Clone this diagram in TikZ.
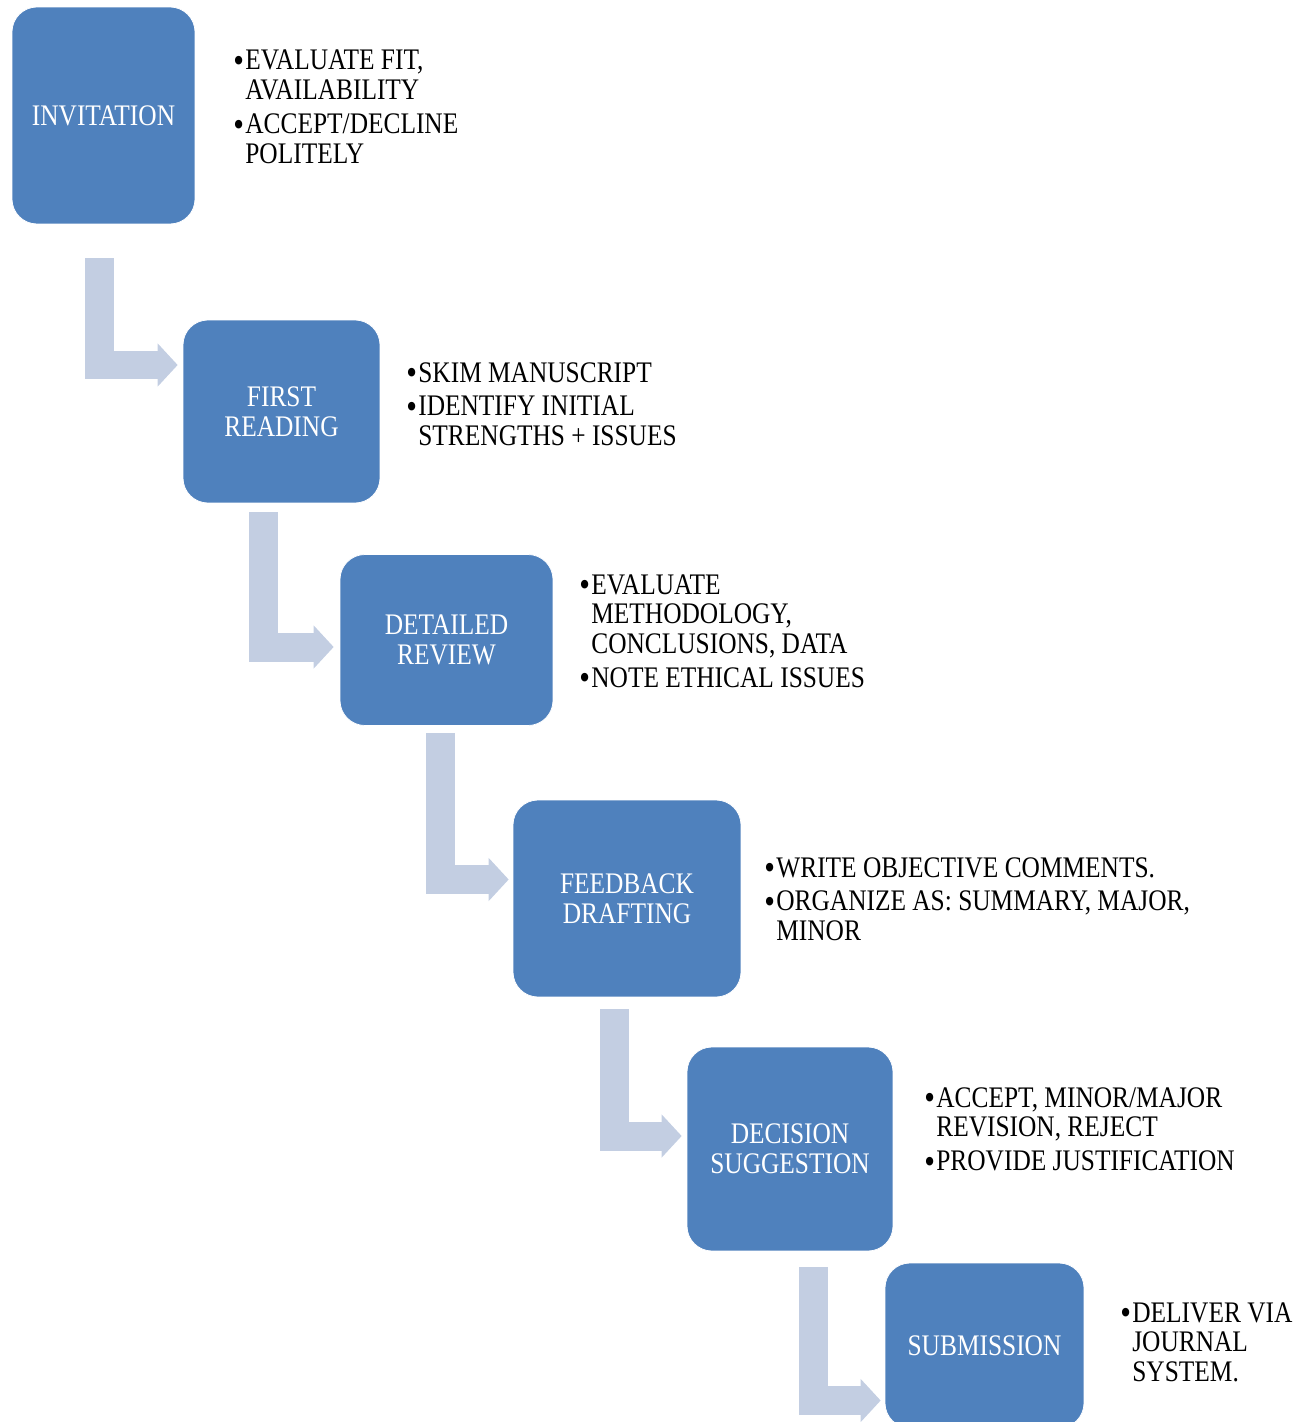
\documentclass[tikz,border=0pt]{standalone}
\usepackage{fontspec}
\setmainfont{Liberation Serif}[FakeStretch=0.85]
\usetikzlibrary{arrows.meta,calc}
\definecolor{boxblue}{HTML}{4F81BD}
\definecolor{flowgray}{HTML}{C3CEE2}
\newcommand{\bl}{\raisebox{-1.3pt}{\scalebox{1.2}{\textbullet}}}
\begin{document}
\begin{tikzpicture}[x=0.02cm,y=-0.02cm,
    font=\fontsize{17}{17}\selectfont,
    phase/.style={fill=boxblue,draw=white,line width=0.4pt,rounded corners=0.5cm,
      text=white,align=center,inner sep=0pt},
    notes/.style={anchor=base west,inner sep=0pt},
    flow/.style={draw=flowgray,line width=0.58cm,line join=miter,
      -{Triangle[width=0.84cm,length=0.4cm]}}]
        % 画像の大きさ
        \useasboundingbox (0,0) rectangle (1310,1422);
        % 各段階のボックス
        \node[phase,minimum width=3.66cm,minimum height=4.34cm] (invitation) at (103.5,115.5) {INVITATION};
        \node[phase,minimum width=3.94cm,minimum height=3.66cm] (reading) at (281.5,411.5) {FIRST\\READING};
        \node[phase,minimum width=4.26cm,minimum height=3.42cm] (review) at (446.5,640) {DETAILED\\REVIEW};
        \node[phase,minimum width=4.56cm,minimum height=3.94cm] (drafting) at (627,898.5) {FEEDBACK\\DRAFTING};
        \node[phase,minimum width=4.12cm,minimum height=4.08cm] (decision) at (790,1149) {DECISION\\SUGGESTION};
        \node[phase,minimum width=3.98cm,minimum height=3.30cm] (submission) at (984.5,1345.5) {SUBMISSION};
        % 段階の間の矢印
        \draw[flow] ($(invitation.south west)+(87.5,34)$) |- ($(reading.west)+(-5,-46.5)$);
        \draw[flow] ($(reading.south west)+(81,9)$) |- ($(review.west)+(-6,7)$);
        \draw[flow] ($(review.south west)+(100.5,7)$) |- ($(drafting.west)+(-4,-19)$);
        \draw[flow] ($(drafting.south west)+(101.5,12)$) |- ($(decision.west)+(-5,-13)$);
        \draw[flow] ($(decision.south west)+(127,16)$) |- ($(submission.west)+(-4,55)$);
        % 箇条書き
        \node[notes] (invitationnotes) at (233,70) {\begin{tabular}[t]{@{}p{0.24cm}@{}l@{}}
          \bl & EVALUATE FIT,\\ & AVAILABILITY\\[0.08cm]
          \bl & ACCEPT/DECLINE\\ & POLITELY\end{tabular}};
        \node[notes] (readingnotes) at (406,382) {\begin{tabular}[t]{@{}p{0.24cm}@{}l@{}}
          \bl & SKIM MANUSCRIPT\\[0.08cm]
          \bl & IDENTIFY INITIAL\\ & STRENGTHS + ISSUES\end{tabular}};
        \node[notes] (reviewnotes) at (579,594) {\begin{tabular}[t]{@{}p{0.24cm}@{}l@{}}
          \bl & EVALUATE\\ & METHODOLOGY,\\ & CONCLUSIONS, DATA\\[0.08cm]
          \bl & NOTE ETHICAL ISSUES\end{tabular}};
        \node[notes] (draftingnotes) at (764,877) {\begin{tabular}[t]{@{}p{0.24cm}@{}l@{}}
          \bl & WRITE OBJECTIVE COMMENTS.\\[0.08cm]
          \bl & ORGANIZE AS: SUMMARY, MAJOR,\\ & MINOR\end{tabular}};
        \node[notes] (decisionnotes) at (924,1107) {\begin{tabular}[t]{@{}p{0.24cm}@{}l@{}}
          \bl & ACCEPT, MINOR/MAJOR\\ & REVISION, REJECT\\[0.08cm]
          \bl & PROVIDE JUSTIFICATION\end{tabular}};
        \node[notes] (submissionnotes) at (1120,1322) {\begin{tabular}[t]{@{}p{0.24cm}@{}l@{}}
          \bl & DELIVER VIA\\ & JOURNAL\\ & SYSTEM.\end{tabular}};
      \end{tikzpicture}
\end{document}
